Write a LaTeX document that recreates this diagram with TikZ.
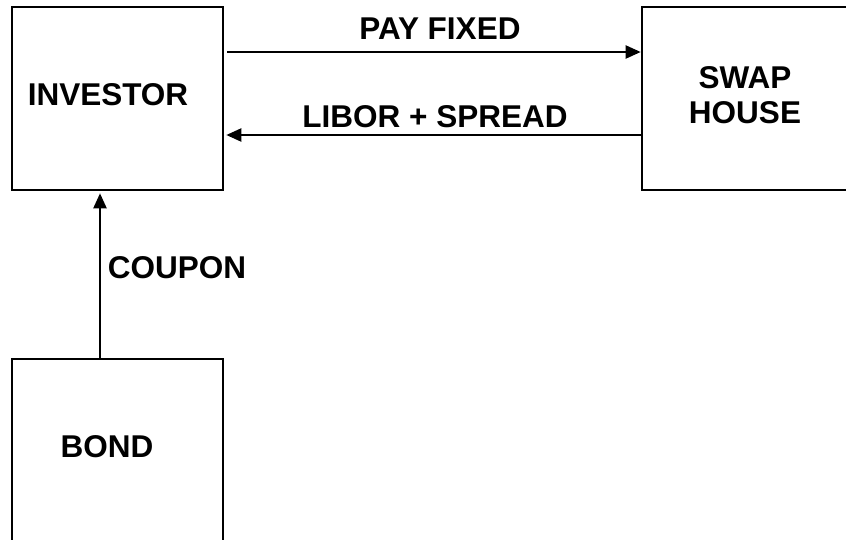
\documentclass[tikz,border=0pt]{standalone}
\usepackage{fontspec}
\setmainfont{Liberation Sans}
\usetikzlibrary{arrows.meta}
\begin{document}
\begin{tikzpicture}[x=1pt,y=-1pt,
  box/.style={draw=black,line width=2.6pt,minimum width=211pt,inner sep=0pt},
  lbl/.style={font=\fontsize{31.5}{35.5}\selectfont\bfseries,inner sep=0pt,align=center},
  arr/.style={line width=2.2pt,-{Triangle[length=15pt,width=13pt]}}]
\useasboundingbox (0,0) rectangle (846,539);
\clip (0,0) rectangle (846,539);
\fill[white] (0,0) rectangle (846,539);
\node[box,minimum height=183pt] (inv) at (117.5,98.5) {};
\node[box,minimum width=240pt,minimum height=183pt] (swap) at (762,98.5) {};
\node[box,minimum height=240pt] (bond) at (117.5,479) {};
\node[lbl] (tinv) at (108,95) {INVESTOR};
\node[lbl] (tswap) at (745,95) {SWAP\\HOUSE};
\node[lbl] (tbond) at (107,447) {BOND};
\node[lbl] (tpay) at (440,29) {PAY FIXED};
\node[lbl] (tlib) at (435,117) {LIBOR + SPREAD};
\node[lbl] (tcou) at (177,268) {COUPON};
\draw[arr,shorten <=3pt] ([yshift=46.5pt]inv.east) -- ([yshift=46.5pt]inv.east -| swap.west);
\draw[arr] ([yshift=-36.5pt]inv.east -| swap.west) -- ([yshift=-36.5pt,xshift=2pt]inv.east);
\draw[arr] ([xshift=-17.5pt]bond.north) -- ([xshift=-17.5pt,yshift=-2pt]inv.south);
\end{tikzpicture}
\end{document}
